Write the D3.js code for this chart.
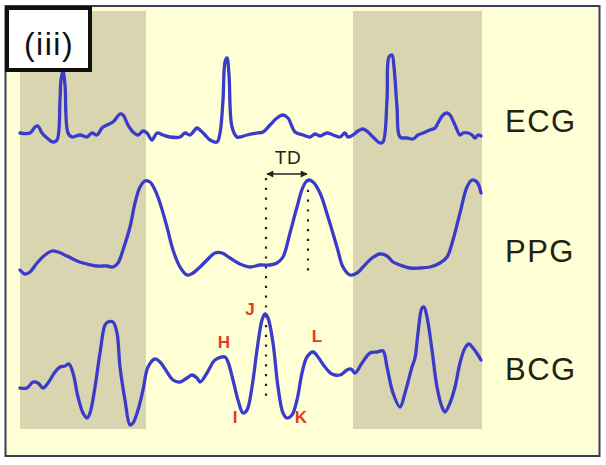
<!DOCTYPE html>
<html><head><meta charset="utf-8">
<script src="https://cdn.jsdelivr.net/npm/d3@7"></script>
<style>html,body{margin:0;padding:0;background:#fff;}svg{display:block;}</style>
</head><body>
<svg id="c" width="606" height="465"></svg>
<script>
// time in arbitrary sample units, amplitude in arbitrary units
const ecg = [[0,2],[10,2],[15,8],[18,9],[22,2],[27,-3],[33,-7],[37,-5],[40,35],[41,55],[43,64],[45,50],[48,2],[52,-2],[60,0],[67,-2],[72,2],[77,0],[82,7],[87,10],[93,13],[100,21],[103,20],[108,10],[113,3],[118,0],[123,4],[127,2],[132,-5],[137,2],[143,0],[150,-2],[160,-2],[165,2],[170,0],[177,7],[180,5],[185,0],[190,-5],[197,-7],[200,2],[203,35],[205,73],[207,77],[209,60],[212,8],[217,-2],[220,-2],[227,0],[237,2],[243,3],[250,10],[257,17],[263,20],[268,17],[275,3],[283,0],[290,-2],[295,1],[300,-1],[307,2],[313,0],[320,-2],[325,2],[328,-2],[333,0],[338,4],[343,6],[348,3],[353,-2],[360,-8],[363,-7],[367,35],[369,78],[372,80],[374,68],[377,28],[380,-2],[387,-3],[393,-4],[398,0],[403,2],[410,5],[415,7],[418,12],[423,20],[427,22],[430,20],[435,10],[440,0],[443,2],[448,2],[452,0],[455,-3],[458,0],[461,-1]];
const ppg = [[0,-5],[5,-9],[10,-7],[17,2],[25,10],[32,14],[38,13],[47,9],[57,4],[67,1],[77,-1],[87,-1],[93,-2],[98,2],[103,15],[110,38],[115,62],[120,78],[125,84],[130,83],[135,75],[140,62],[147,38],[153,15],[160,-2],[167,-10],[173,-8],[180,-2],[187,5],[195,12],[202,12],[210,7],[220,1],[230,-2],[240,0],[250,0],[257,2],[263,8],[270,32],[277,58],[283,78],[288,85],[293,83],[300,72],[308,48],[317,18],[323,-2],[330,-10],[337,-8],[343,-2],[352,7],[360,11],[367,9],[373,3],[380,0],[390,-3],[400,-3],[410,-2],[420,2],[427,8],[433,25],[440,52],[447,78],[452,85],[457,83],[461,72]];
const bcg = [[0,-8],[7,-8],[13,-2],[18,-3],[23,-8],[28,-3],[35,8],[40,13],[45,14],[49,16],[53,7],[58,-17],[63,-33],[67,-38],[70,-33],[75,-7],[80,27],[85,55],[88,58],[93,58],[97,47],[100,13],[105,-20],[110,-45],[113,-43],[118,-30],[123,-10],[128,13],[135,21],[140,18],[147,8],[153,0],[160,-2],[167,2],[172,5],[177,2],[180,-2],[187,7],[195,20],[205,23],[208,18],[213,0],[218,-20],[223,-33],[227,-30],[232,-7],[237,30],[242,60],[245,66],[248,62],[253,37],[258,-7],[263,-33],[267,-38],[272,-35],[277,-20],[282,7],[287,23],[293,28],[298,23],[305,13],[312,6],[320,5],[327,10],[331,11],[335,7],[342,17],[350,27],[357,28],[363,29],[367,13],[373,-13],[380,-27],[385,-13],[392,13],[395,22],[398,47],[402,72],[404,73],[407,63],[412,30],[417,-7],[422,-27],[425,-32],[430,-23],[435,-7],[440,17],[445,32],[449,36],[453,32],[458,25],[461,20]];
const shadeWindows = [[0,126],[333,462]];
const tdStart = 246, tdEnd = 288;
const signalNames = ["ECG","PPG","BCG"];
const bcgPoints = [
  {name:"H", t:204, v:36},
  {name:"I", t:215, v:-39},
  {name:"J", t:230, v:69},
  {name:"K", t:281, v:-39},
  {name:"L", t:297, v:42}
];
const panelLabel = "(iii)";

const svg = d3.select("#c");
const x = d3.scaleLinear().domain([0,462]).range([20,482]);
const yE = d3.scaleLinear().domain([0,100]).range([135,35]);
const yP = d3.scaleLinear().domain([0,100]).range([265,165]);
const yB = d3.scaleLinear().domain([0,100]).range([380,280]);
const font = "Liberation Sans, Arial, sans-serif";

// frame
svg.append("rect").attr("x",5.5).attr("y",6).attr("width",594).attr("height",450)
  .attr("fill","#ffffd6").attr("stroke","#3d3d55").attr("stroke-width",2);

// shaded windows
svg.selectAll("rect.sh").data(shadeWindows).join("rect").attr("class","sh")
  .attr("x",d=>x(d[0])).attr("width",d=>x(d[1])-x(d[0]))
  .attr("y",11).attr("height",418).attr("fill","#d9d5b0");

// dotted lines
function dl(t,y1,y2){
  svg.append("line").attr("x1",x(t)).attr("x2",x(t)).attr("y1",y1).attr("y2",y2)
    .attr("stroke","#222").attr("stroke-width",2.2).attr("stroke-dasharray","2.2 7.6");
}
dl(tdStart, yP(87), yB(-22));
dl(tdEnd, yP(85), yP(-10));

// traces
const color = "#3a3acb";
const lineE = d3.line().x(d=>x(d[0])).y(d=>yE(d[1])).curve(d3.curveCatmullRom.alpha(0.5));
const lineP = d3.line().x(d=>x(d[0])).y(d=>yP(d[1])).curve(d3.curveCatmullRom.alpha(0.5));
const lineB = d3.line().x(d=>x(d[0])).y(d=>yB(d[1])).curve(d3.curveCatmullRom.alpha(0.5));
[[ecg,lineE],[ppg,lineP],[bcg,lineB]].forEach(([d,g])=>{
  svg.append("path").attr("d",g(d)).attr("fill","none").attr("stroke",color)
    .attr("stroke-width",3.3).attr("stroke-linejoin","round").attr("stroke-linecap","round");
});

// TD arrow
const defs = svg.append("defs");
defs.append("marker").attr("id","ah").attr("viewBox","0 0 10 10").attr("refX",9).attr("refY",5)
  .attr("markerWidth",9).attr("markerHeight",7).attr("markerUnits","userSpaceOnUse").attr("orient","auto-start-reverse")
  .append("path").attr("d","M0,0 L10,5 L0,10 z").attr("fill","#222");
svg.append("line").attr("x1",x(tdStart)+1).attr("x2",x(tdEnd)-1).attr("y1",174).attr("y2",174)
  .attr("stroke","#222").attr("stroke-width",1.5)
  .attr("marker-start","url(#ah)").attr("marker-end","url(#ah)");
svg.append("text").attr("x",(x(tdStart)+x(tdEnd))/2+1).attr("y",164).attr("text-anchor","middle")
  .attr("font-family",font).attr("font-size",19).attr("letter-spacing","0.5px").attr("fill","#222")
  .text("TD");

// signal names
const nameY = [132, 262, 380];
signalNames.forEach((n,i)=>{
  svg.append("text").attr("x",505).attr("y",nameY[i])
    .attr("font-family",font).attr("font-size",31)
    .attr("letter-spacing","1.5px").attr("fill","#22220f").text(n);
});

// BCG point labels
svg.selectAll("text.pt").data(bcgPoints).join("text").attr("class","pt")
  .attr("x",d=>x(d.t)).attr("y",d=>yB(d.v)).attr("text-anchor","middle")
  .attr("dominant-baseline","middle")
  .attr("font-family",font).attr("font-size",17).attr("font-weight","bold")
  .attr("fill","#e53a1e").text(d=>d.name);

// panel label box
svg.append("rect").attr("x",7).attr("y",8).attr("width",83).attr("height",62)
  .attr("fill","#fff").attr("stroke","#111").attr("stroke-width",4);
svg.append("text").attr("x",49).attr("y",55).attr("text-anchor","middle")
  .attr("font-family",font).attr("font-size",32).attr("letter-spacing","1.5px").attr("fill","#111")
  .text(panelLabel);
</script>
</body></html>
